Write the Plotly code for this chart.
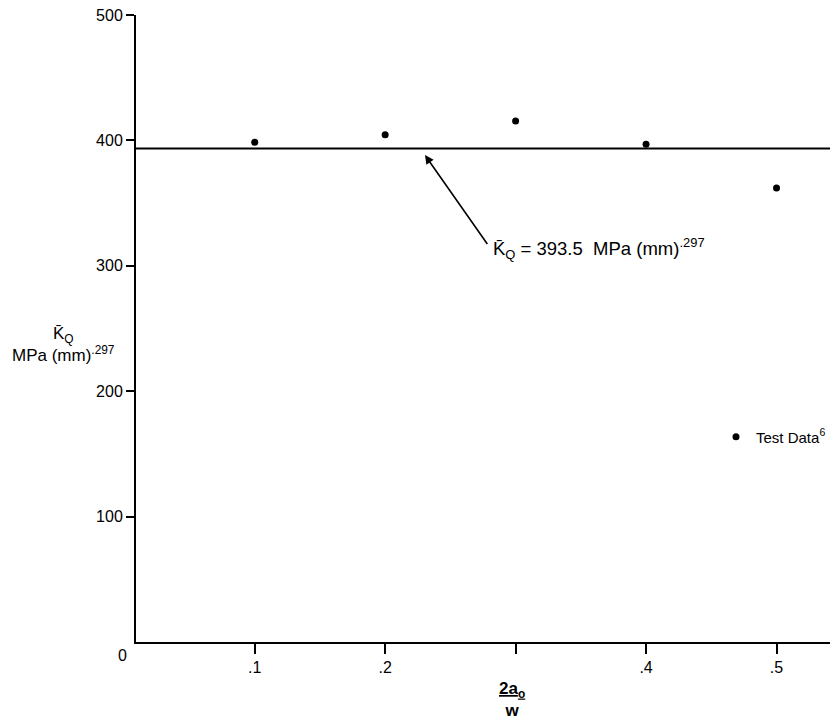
import plotly.graph_objects as go

# Crack length ratio 2a0/W and measured toughness values
crack_ratio = [0.1, 0.2, 0.3, 0.4, 0.5]
kq_values = [398.5, 404.5, 415.5, 397, 362]
kq_mean = 393.5

x_tick_vals = [0.1, 0.2, 0.3, 0.4, 0.5]
x_tick_text = [".1", ".2", "", ".4", ".5"]
y_tick_vals = [100, 200, 300, 400, 500]
y_tick_text = ["100", "200", "300", "400", "500"]

FONT = "Liberation Sans, Arial, Helvetica, sans-serif"
KBAR = "K\u0304"

fig = go.Figure()

fig.add_trace(go.Scatter(
    x=crack_ratio, y=kq_values, mode="markers",
    marker=dict(color="black", size=7),
    name="Test Data<sup>6</sup>", showlegend=True,
))

# Mean value line
fig.add_hline(y=kq_mean, line=dict(color="black", width=2))

# Arrow pointing to the mean line
fig.add_annotation(
    x=0.227, y=kq_mean, xref="x", yref="y", text="",
    showarrow=True, arrowhead=2, arrowsize=1.1, arrowwidth=1.6,
    arrowcolor="black", ax=68, ay=97, standoff=8,
)
fig.add_annotation(
    x=0.281, y=314, xref="x", yref="y", xanchor="left", yanchor="middle",
    text=f"{KBAR}<sub>Q</sub> = 393.5  MPa (mm)<sup>.297</sup>",
    showarrow=False, font=dict(family=FONT, size=18.5, color="black"),
)

# Y-axis title (horizontal)
fig.add_annotation(
    x=-0.104, y=237, xref="paper", yref="y", xanchor="center", yanchor="middle",
    text=f"{KBAR}<sub>Q</sub><br>MPa (mm)<sup>.297</sup>",
    showarrow=False, align="center",
    font=dict(family=FONT, size=17, color="black"),
)

# X-axis title
fig.add_annotation(
    x=0.297, y=-0.092, xref="x", yref="paper", xanchor="center", yanchor="middle",
    text="<b><u>2a<sub>o</sub></u><br>w</b>",
    showarrow=False, align="center",
    font=dict(family=FONT, size=17, color="black"),
)

# Shared origin label
fig.add_annotation(
    x=-0.019, y=-0.021, xref="paper", yref="paper", xanchor="center", yanchor="middle",
    text="0", showarrow=False, font=dict(family=FONT, size=16, color="black"),
)

fig.update_xaxes(
    range=[0.009, 0.541], tickvals=x_tick_vals, ticktext=x_tick_text,
    ticks="outside", ticklen=10, tickwidth=2, tickcolor="black",
    showline=True, linecolor="black", linewidth=2, showgrid=False, zeroline=False,
    tickfont=dict(family=FONT, size=16, color="black"),
)
fig.update_yaxes(
    range=[0, 500], tickvals=y_tick_vals, ticktext=y_tick_text,
    ticks="outside", ticklen=8, tickwidth=2, tickcolor="black",
    showline=True, linecolor="black", linewidth=2, showgrid=False, zeroline=False,
    tickfont=dict(family=FONT, size=16, color="black"),
)

fig.update_layout(
    width=831, height=723,
    margin=dict(l=136, r=0, t=15, b=81),
    paper_bgcolor="white", plot_bgcolor="white",
    font=dict(family=FONT, color="black"),
    legend=dict(
        x=0.836, y=0.327, xanchor="left", yanchor="middle",
        bgcolor="rgba(0,0,0,0)", font=dict(family=FONT, size=15, color="black"),
        itemwidth=30,
    ),
)

fig.write_html("out.html")
